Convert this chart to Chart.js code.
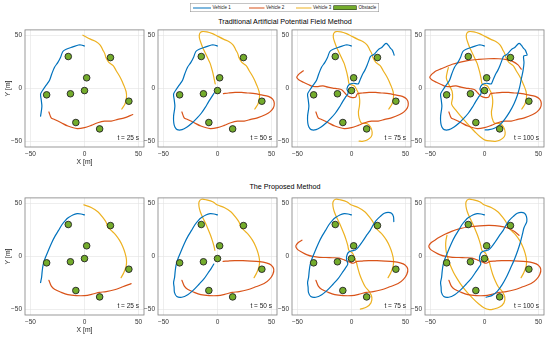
<!DOCTYPE html>
<html>
<head>
<meta charset="utf-8">
<script src="https://cdn.jsdelivr.net/npm/chart.js@4.4.0/dist/chart.umd.min.js"></script>
<style>
  body { margin: 0; background: #fff; width: 550px; height: 338px; position: relative; overflow: hidden;
         font-family: "Liberation Sans", Arial, sans-serif; }
  canvas { position: absolute; }
  .title { position: absolute; font-size: 7.2px; line-height: 9px; color: #000; white-space: nowrap;
           transform: translateX(-50%); }
  #legend { position: absolute; left: 190px; top: 3px; width: 378px; height: 18px; border: 1px solid #8a8a8a;
            background: #fff; transform: scale(0.5); transform-origin: 0 0; box-sizing: border-box; }
  #legend .ln { position: absolute; top: 7.5px; height: 2px; }
  #legend .tx { position: absolute; top: 2px; font-size: 9px; line-height: 12px; color: #222; white-space: nowrap; }
  #legend .ob { position: absolute; top: 3.5px; height: 9px; width: 46px; left: 286px; background: #74ac2c;
                border: 1px solid #222; box-sizing: border-box; }
</style>
</head>
<body>
<div id="legend">
  <div class="ln" style="left:5px;width:36px;background:#0072BD"></div><div class="tx" style="left:44px">Vehicle 1</div>
  <div class="ln" style="left:117px;width:31px;background:#D95319"></div><div class="tx" style="left:151px">Vehicle 2</div>
  <div class="ln" style="left:211px;width:31px;background:#EDB120"></div><div class="tx" style="left:245px">Vehicle 3</div>
  <div class="ob"></div><div class="tx" style="left:336px">Obstacle</div>
</div>
<div class="title" style="left:285px;top:17px">Traditional Artificial Potential Field Method</div>
<div class="title" style="left:285px;top:182px">The Proposed Method</div>
<script>
var times = [25, 50, 75, 100];
var obstacleX = [-15, 24, 2, -35, -13, 0, 41, -8, 14];
var obstacleY = [30, 29, 10, -6, -5, -2, -12, -32, -38];

// traditional APF: each vehicle split in the parts driven during 0-25, 25-50, 50-75, 75-100 s
var apfVehicle1 = [
  [[0,39.9],[-3.1,40.8],[-5.5,40.8],[-10.8,39],[-16.9,36.8],[-20,34.7],[-22.2,29.1],[-24.6,24.5],[-27.7,19.9],[-30.2,13.8],[-32.3,7.7],[-35.4,3.1],[-38.5,-1.5],[-40.6,-5.2],[-40,-10.7],[-39.4,-16.9],[-40.6,-26]],
  [[-40.4,-32.5],[-39.4,-36.2],[-37.3,-38.7],[-32.7,-38.7],[-28.1,-36.2],[-23.5,-32.5],[-19,-27.9],[-15,-23.3],[-11.3,-17.8],[-8.3,-12.6],[-5.8,-8.6],[-3.1,-4.3]],
  [[-4.2,-0.3],[-2.1,3.7],[1.8,4.9],[6.1,4.3],[7.9,8],[10,12.9],[12.4,17.2],[14.5,22.1],[16.1,26.4],[17.6,30.1],[20.6,31.9],[23,34.4],[25.2,36.8],[28.2,38.7],[30.3,41.1],[32.1,42.3],[34.2,40.5],[35.8,38],[37.6,36.2],[38.8,33.4],[39.4,31.3]],
  [[36.2,30.4],[36.5,24.2],[35.6,16.6],[34,8.9],[32.5,1.2],[30.4,-6.4],[27.4,-14.1],[23.4,-21.8],[18.8,-28.8],[14.3,-34],[9.1,-37.4],[4.3,-38.7],[0.6,-39]]
];
var apfVehicle2 = [
  [[-32.9,-22.1],[-30.8,-27.6],[-27.7,-29.1],[-21.5,-32.2],[-15.4,-35.3],[-6.8,-37.7],[0,-36.8],[6.2,-34.7],[12.3,-32.2],[18.5,-30.7],[24.6,-30.7],[30.8,-29.1],[36.9,-27.6],[44.6,-24.5]],
  [[48.5,-22],[51.5,-18.5],[52.5,-14],[51,-10],[47,-7.4],[40.7,-6.1],[34.6,-4.9],[28.4,-4.3],[22.3,-3.7],[16.2,-3.7],[10.1,-4.3],[5.5,-4.9]],
  [[3.9,-8],[0.9,-8.6],[-3,-7.4],[-6.1,-4.3],[-9.1,-1.2],[-12.7,-0.3],[-17.3,0.3],[-21.8,1.2],[-26.4,2.5],[-30.9,1.8],[-35.5,1.8],[-40,3.7],[-44.5,5.8],[-48.5,8],[-50.6,10.4],[-49.1,12.9],[-46.7,15],[-44.5,16.6]],
  [[-40.4,18.4],[-35.9,20.2],[-29.8,22.7],[-22.2,24.8],[-14.6,26.4],[-5.5,27.3],[3.6,27.9],[12.8,27.9],[20.4,27],[26.4,25.2],[31,22.1],[34,18.1]]
];
var apfVehicle3 = [
  [[34.5,-19.3],[37.5,-14.4],[38.8,-8.3],[38.5,-3.1],[36.3,3.1],[33.2,10.1],[29.2,16.9],[26.5,21.5],[22.5,24.5],[20,28.5],[18.8,32.5],[16.9,36.2],[14.5,40.8],[10.8,43.9],[5.5,46.3],[-1.5,50]],
  [[-4.6,51.5],[-9.8,53.1],[-14.4,53.4],[-16.5,51.5],[-16.8,47.9],[-15.6,43.6],[-13.8,38.7],[-11.3,33.4],[-8.9,28.2],[-6.7,23.3],[-5.2,18.1],[-4,13.5],[-3.1,8.9],[-2.1,4.3]],
  [[2.4,2.5],[4.8,-1.2],[6.7,-5.5],[7.6,-11],[7.3,-16.6],[6.4,-22.1],[7,-27.6],[9.1,-32.5],[14.5,-33.1],[17.6,-36.2],[19.1,-41.1],[18.2,-45.4],[14.5,-48.5],[10,-49.7],[7,-49.4]],
  [[0.6,-48.5],[-4,-45.4],[-8.5,-41.1],[-13.1,-36.2],[-17.6,-31],[-22.2,-25.8],[-26.7,-20.2],[-30.4,-14.7],[-29.5,-8.6],[-30,-2.5],[-33,3.7],[-35.3,9.8],[-34.3,16],[-33.4,19.6]]
];

// proposed method
var newVehicle1 = [
  [[0,39],[-3.1,39.9],[-6.8,40.2],[-10.8,39],[-14.8,36.5],[-17.8,33.7],[-20.9,29.8],[-24,24.5],[-27.1,19.3],[-30.2,13.2],[-33.2,6.1],[-36.3,-1.5],[-38.2,-7.7],[-39.1,-13.8],[-39.7,-19.9],[-40.6,-24.5]],
  [[-40.1,-29.1],[-39.8,-33.7],[-37.6,-37.7],[-33,-38.3],[-27.5,-35.9],[-22.3,-31.6],[-17.1,-26.1],[-12.2,-20.6],[-8.6,-15.3],[-5.5,-10.7],[-3.4,-7.1]],
  [[-4.5,-3],[-4.5,0],[-3,3.7],[0,5.2],[3.6,6.1],[6.7,9.2],[10,13.8],[13.6,19.3],[17.3,24.5],[19.7,29.1],[22.7,33.7],[26.4,37.4],[30.3,40.5],[33.9,41.4],[37,40.5],[38.8,37.4],[39.1,32.8]],
  [[36.5,27],[35.2,21.5],[33.3,13.8],[30.9,6.1],[27.9,-2.1],[24.2,-10.7],[20.3,-19.3],[16.2,-26.7],[11.8,-32.8],[6.7,-36.8],[1.5,-38.3]]
];
var newVehicle2 = [
  [[-32.9,-22.4],[-30.8,-27.6],[-27.7,-30.7],[-21.5,-33.7],[-15.4,-35.9],[-7.7,-36.8],[0,-36.8],[7.7,-35.3],[13.8,-33.7],[20,-33.1],[27.7,-31.3],[35.4,-28.5],[43.1,-25.5]],
  [[48,-21.5],[51.1,-17],[52,-12],[49.5,-8],[45,-6.1],[38.8,-4.9],[31.2,-4.3],[23.5,-4],[15.9,-4],[9.8,-4.3],[5.2,-4.6]],
  [[1.5,-6.4],[-2.1,-5.2],[-6.4,-3.4],[-11.5,-1.5],[-17.6,-1.2],[-23.6,-1],[-29.7,-0.9],[-35.8,0],[-40.9,1.5],[-45.8,4],[-50,6.7],[-51.5,9.8],[-49.4,12.9],[-45.8,15.3]],
  [[-42.6,17.5],[-37.1,20.6],[-30.4,23.6],[-22.8,26.1],[-13.7,27.9],[-4.6,28.8],[4.6,29.1],[13.7,28.5],[21.3,26.7],[27.4,23.6],[31.9,19.9]]
];
var newVehicle3 = [
  [[33.8,-19.9],[36.3,-15.3],[38.5,-9.2],[38.8,-3.1],[37.5,3.1],[35.4,9.2],[32.3,15.3],[28.6,20.6],[24.6,24.5],[21.5,27.6],[20,32.2],[16.9,36.8],[12.3,42],[6.2,46],[-0.6,48.5]],
  [[-4,51.2],[-10.1,53.1],[-14.7,53.7],[-17.1,51.2],[-17.1,46.9],[-15.9,42],[-13.8,36.8],[-11.3,31.6],[-8.9,26.1],[-6.7,20.6],[-4.9,15.3],[-3.4,10.1],[-2.4,5.8]],
  [[0.9,3.1],[2.7,-0.9],[4.5,-5.5],[5.8,-10.7],[7.6,-16.9],[10,-23],[12.7,-28.5],[16.5,-33],[18.8,-38.5],[18,-43.6],[14,-47.5],[8.2,-49.5]],
  [[4.6,-50],[-0.6,-48.2],[-5.5,-44.5],[-10.6,-39.6],[-15.8,-34],[-20.7,-27.9],[-24.9,-21.5],[-28.6,-15],[-31.6,-8.3],[-33.7,-2.1],[-35.3,4],[-35.9,10.1],[-35.6,15.3],[-34.7,19.9]]
];

var colors = ['#0072BD', '#D95319', '#EDB120'];
var methods = [[apfVehicle1, apfVehicle2, apfVehicle3], [newVehicle1, newVehicle2, newVehicle3]];
var fontFamily = '"Liberation Sans", Arial, sans-serif';

// box plot area + time label
var panelPlugin = {
  id: 'panel',
  afterDraw: function (chart, args, opts) {
    var a = chart.chartArea, c = chart.ctx;
    c.save();
    c.strokeStyle = '#808080';
    c.lineWidth = 0.8;
    c.strokeRect(a.left, a.top, a.right - a.left, a.bottom - a.top);
    c.fillStyle = '#1a1a1a';
    c.font = '6.5px ' + fontFamily;
    c.textAlign = 'right';
    c.textBaseline = 'middle';
    c.fillText(opts.text, a.right - 5, a.bottom - 8.5);
    c.restore();
  }
};

function path(segs, k) {
  var pts = [];
  for (var i = 0; i <= k; i++) {
    segs[i].forEach(function (p) { pts.push({x: p[0], y: p[1]}); });
  }
  return pts;
}

function fmt(v) {
  return v < 0 ? '\u2212' + Math.abs(v) : String(v);
}

var obstacles = obstacleX.map(function (x, i) { return {x: x, y: obstacleY[i]}; });
var panelLeft = [25, 158.3, 291.7, 425];
var rowTop = [27, 195];
var boxW = 119, boxH = 120, padL = 26, padT = 4, padR = 6, axisH = 21;

for (var r = 0; r < 2; r++) {
  for (var k = 0; k < 4; k++) {
    var cv = document.createElement('canvas');
    cv.width = padL + boxW + padR;
    cv.height = padT + boxH + axisH;
    cv.style.left = (panelLeft[k] - padL) + 'px';
    cv.style.top = (rowTop[r] - padT) + 'px';
    document.body.appendChild(cv);

    var ds = [{
      label: 'Obstacle', data: obstacles, showLine: false,
      pointRadius: 3.3, pointBackgroundColor: '#74ac2c', pointBorderColor: '#222', pointBorderWidth: 0.9
    }];
    methods[r].forEach(function (veh, v) {
      ds.push({
        label: 'Vehicle ' + (v + 1), data: path(veh, k), showLine: true,
        borderColor: colors[v], borderWidth: 1.2, pointRadius: 0, tension: 0.3,
        borderJoinStyle: 'round', borderCapStyle: 'round'
      });
    });

    var first = k === 0;
    new Chart(cv, {
      type: 'scatter',
      data: { datasets: ds },
      options: {
        responsive: false, animation: false, events: [],
        layout: { padding: { left: 0, top: padT, right: padR, bottom: 0 } },
        plugins: { legend: { display: false }, tooltip: { enabled: false }, panel: { text: 't = ' + times[k] + ' s' } },
        scales: {
          x: {
            type: 'linear', min: -55, max: 55,
            afterBuildTicks: function (s) { s.ticks = [{value: -50}, {value: 0}, {value: 50}]; },
            afterFit: function (s) { s.height = axisH; },
            grid: { color: '#e2e2e2', lineWidth: 0.6, drawTicks: false },
            border: { display: false },
            ticks: { padding: 3, maxRotation: 0, color: '#333', font: { size: 6.5, family: fontFamily }, callback: fmt },
            title: { display: first, text: 'X [m]', color: '#222', padding: { top: 0, bottom: 2 }, font: { size: 6.8, family: fontFamily } }
          },
          y: {
            type: 'linear', min: -55, max: 55,
            afterBuildTicks: function (s) { s.ticks = [{value: -50}, {value: 0}, {value: 50}]; },
            afterFit: function (s) { s.width = padL; },
            grid: { color: '#e2e2e2', lineWidth: 0.6, drawTicks: false },
            border: { display: false },
            ticks: { padding: 3, color: '#333', font: { size: 6.5, family: fontFamily }, callback: fmt },
            title: { display: first, text: 'Y [m]', color: '#222', padding: { top: 5, bottom: 0 }, font: { size: 6.8, family: fontFamily } }
          }
        }
      },
      plugins: [panelPlugin]
    });
  }
}
</script>
</body>
</html>
